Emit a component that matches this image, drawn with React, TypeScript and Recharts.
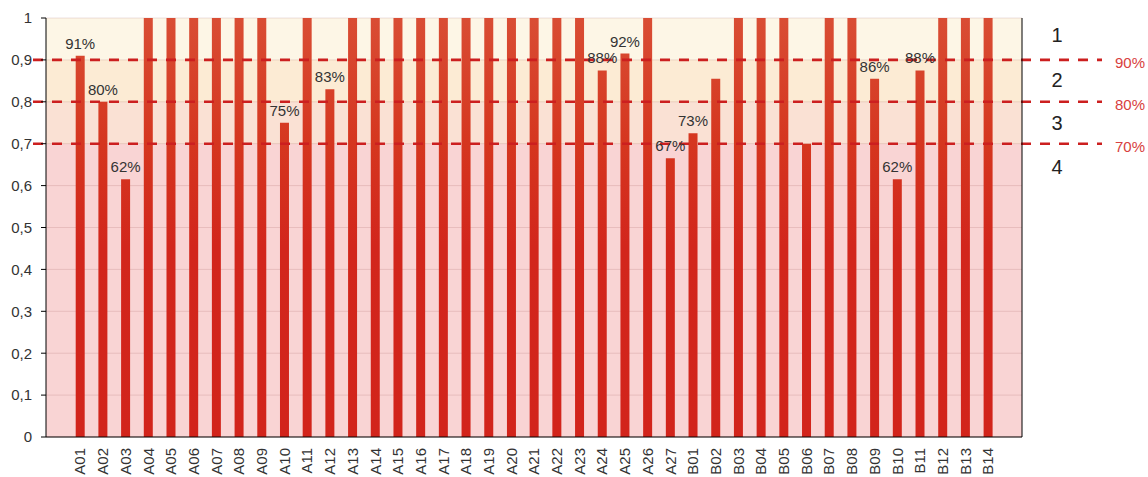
import React from "react";
import {
  BarChart,
  Bar,
  XAxis,
  YAxis,
  CartesianGrid,
  ReferenceArea,
  ReferenceLine,
  LabelList,
} from "recharts";

const categories = [
  "A01", "A02", "A03", "A04", "A05", "A06", "A07", "A08", "A09", "A10",
  "A11", "A12", "A13", "A14", "A15", "A16", "A17", "A18", "A19", "A20",
  "A21", "A22", "A23", "A24", "A25", "A26", "A27",
  "B01", "B02", "B03", "B04", "B05", "B06", "B07", "B08", "B09", "B10",
  "B11", "B12", "B13", "B14",
];

const values = [
  0.91, 0.8, 0.615, 1, 1, 1, 1, 1, 1, 0.75,
  1, 0.83, 1, 1, 1, 1, 1, 1, 1, 1,
  1, 1, 1, 0.875, 0.915, 1, 0.665,
  0.725, 0.855, 1, 1, 1, 0.7, 1, 1, 0.855, 0.615,
  0.875, 1, 1, 1,
];

// percentage shown above the bar (empty = no label)
const valueLabels = [
  "91%", "80%", "62%", "", "", "", "", "", "", "75%",
  "", "83%", "", "", "", "", "", "", "", "",
  "", "", "", "88%", "92%", "", "67%",
  "73%", "", "", "", "", "", "", "", "86%", "62%",
  "88%", "", "", "",
];

const yTicks = [0, 0.1, 0.2, 0.3, 0.4, 0.5, 0.6, 0.7, 0.8, 0.9, 1];

const bandNames = ["1", "2", "3", "4"];
const bandFrom = [0.9, 0.8, 0.7, 0];
const bandTo = [1, 0.9, 0.8, 0.7];
const bandColors = ["#fdf6e6", "#fcebd4", "#fae1d4", "#f9d4d4"];
const bandLabelOffset = [17, 20, 21, 23];

const thresholds = [0.9, 0.8, 0.7];
const thresholdLabels = ["90%", "80%", "70%"];

const data = categories.map((name, i) => ({
  name,
  value: values[i],
  label: valueLabels[i],
}));

// grid stripes go top -> bottom, one per tick gap; colour each by its band
const stripeFills = [...yTicks].reverse().map((top) => {
  const b = bandTo.findIndex((to, i) => top <= to + 1e-9 && top > bandFrom[i] + 1e-9);
  return bandColors[b < 0 ? bandColors.length - 1 : b];
});

const FONT = "'Liberation Sans', Arial, sans-serif";
const PAD = 22.7; // empty slot on each side of the x axis

function XTick(props: any) {
  const { x, y, payload } = props;
  return (
    <text
      x={x}
      y={y}
      transform={`rotate(-90, ${x}, ${y})`}
      textAnchor="end"
      dy="0.36em"
      fontSize={15}
      fill="#333"
      fontFamily={FONT}
    >
      {payload.value}
    </text>
  );
}

function fmtY(v: number) {
  if (v === 0 || v === 1) return String(v);
  return v.toFixed(1).replace(".", ",");
}

export default function App() {
  return (
    <div style={{ position: "absolute", left: 0, top: 0 }}>
      <BarChart
        width={1148}
        height={477}
        data={data}
        margin={{ top: 18, right: 125, left: 0, bottom: 0 }}
        style={{ fontFamily: FONT }}
      >
        <defs>
          <linearGradient id="barFill" gradientUnits="userSpaceOnUse" x1="0" y1="18" x2="0" y2="437">
            <stop offset="0%" stopColor="#d94d34" />
            <stop offset="30%" stopColor="#d5361f" />
            <stop offset="55%" stopColor="#d2261c" />
            <stop offset="100%" stopColor="#d2241b" />
          </linearGradient>
        </defs>
        <CartesianGrid
          vertical={false}
          stroke="rgba(140,70,70,0.16)"
          horizontalFill={stripeFills}
          fillOpacity={1}
        />
        {bandNames.map((n, i) => (
          <ReferenceArea
            key={n}
            y1={bandFrom[i]}
            y2={bandTo[i]}
            fill="none"
            stroke="none"
            label={(p: any) => (
              <text
                x={p.viewBox.x + p.viewBox.width + PAD + 35}
                y={p.viewBox.y + bandLabelOffset[i]}
                textAnchor="middle"
                dominantBaseline="central"
                fontSize={20}
                fill="#222"
                fontFamily={FONT}
              >
                {n}
              </text>
            )}
          />
        ))}
        <XAxis
          dataKey="name"
          interval={0}
          height={40}
          padding={{ left: PAD, right: PAD }}
          tickLine={false}
          axisLine={{ stroke: "#000" }}
          tick={<XTick />}
          tickMargin={5}
        />
        <YAxis
          width={46}
          domain={[0, 1]}
          ticks={yTicks}
          tickFormatter={fmtY}
          tickSize={5}
          tickMargin={9}
          tickLine={{ stroke: "#000" }}
          axisLine={{ stroke: "#000" }}
          tick={{ fill: "#333", fontSize: 15 }}
        />
        <YAxis
          yAxisId="r"
          orientation="right"
          width={1}
          domain={[0, 1]}
          tick={false}
          tickLine={false}
          axisLine={{ stroke: "#000" }}
        />
        <Bar dataKey="value" barSize={9} fill="url(#barFill)" isAnimationActive={false}>
          <LabelList dataKey="label" position="top" offset={7} fill="#333" fontSize={15} />
        </Bar>
        {thresholds.map((t, i) => (
          <ReferenceLine
            key={t}
            y={t}
            shape={(p: any) => (
              <g>
                <line
                  x1={p.x1 - 13}
                  y1={p.y1}
                  x2={p.x2 + 80}
                  y2={p.y2}
                  stroke="#cc1f1f"
                  strokeWidth={2.6}
                  strokeDasharray="10 9"
                />
                <text
                  x={p.x2 + 93}
                  y={p.y2 + 3}
                  dominantBaseline="central"
                  fontSize={15}
                  fill="#d84040"
                  fontFamily={FONT}
                >
                  {thresholdLabels[i]}
                </text>
              </g>
            )}
          />
        ))}
      </BarChart>
    </div>
  );
}
